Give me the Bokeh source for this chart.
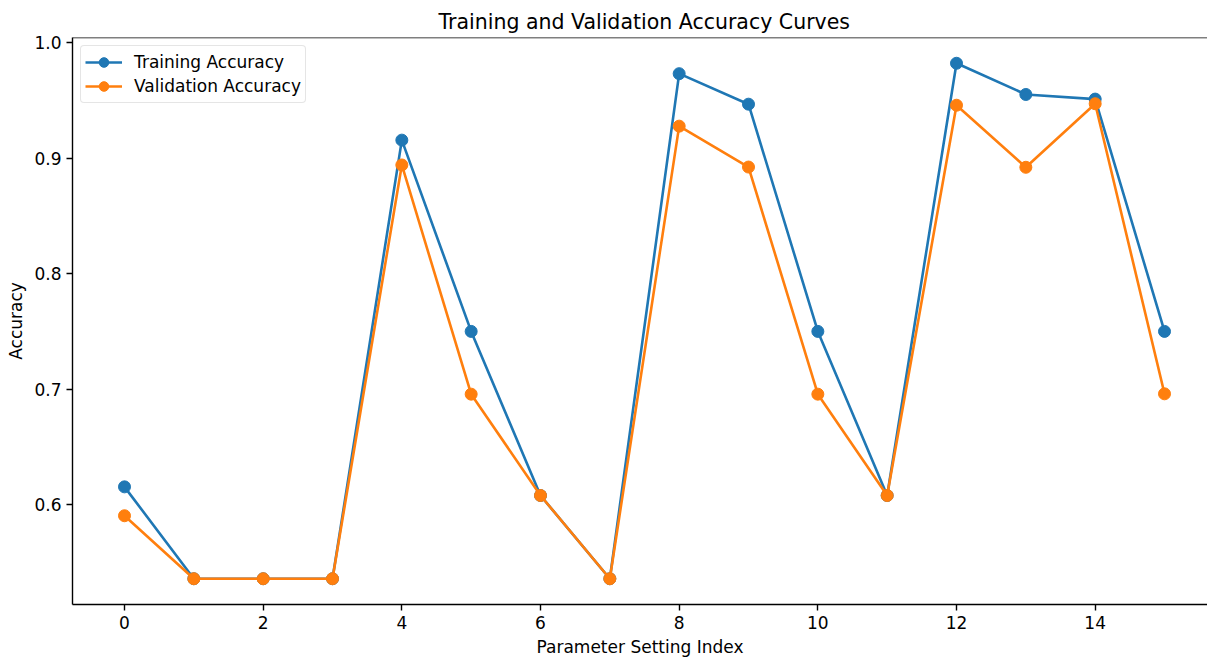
from bokeh.plotting import figure
from bokeh.models import FixedTicker, Span, Range1d, Legend, LegendItem
from bokeh.embed import file_html
from bokeh.resources import INLINE

x_idx = list(range(16))
train_acc = [0.6155, 0.536, 0.536, 0.536, 0.9155, 0.750, 0.608, 0.536,
             0.973, 0.9466, 0.750, 0.608, 0.982, 0.955, 0.951, 0.750]
val_acc = [0.5905, 0.536, 0.536, 0.536, 0.894, 0.6957, 0.608, 0.536,
           0.9276, 0.8922, 0.6957, 0.608, 0.9457, 0.892, 0.947, 0.696]
x_ticks = [0, 2, 4, 6, 8, 10, 12, 14]
y_ticks = [0.6, 0.7, 0.8, 0.9, 1.0]
y_tick_labels = ["0.6", "0.7", "0.8", "0.9", "1.0"]

FONT = "DejaVu Sans"
BLUE = "#1f77b4"
ORANGE = "#ff7f0e"

p = figure(width=1207, height=659, output_backend="svg", toolbar_location=None,
           x_range=Range1d(-0.75, 15.62), y_range=Range1d(0.5137, 1.0043),
           min_border_left=72, min_border_right=0, min_border_top=37, min_border_bottom=53,
           title="Training and Validation Accuracy Curves")

p.title.align = "left"
p.title.offset = 366
p.title.text_font = FONT
p.title.text_font_size = "20.5px"
p.title.text_font_style = "normal"
p.title.text_color = "black"
p.title.standoff = 8

p.grid.visible = False
p.outline_line_color = None
p.background_fill_color = "white"
p.border_fill_color = "white"

top_spine = Span(location=1.0043, dimension="width", line_color="black", line_width=1.4)
p.add_layout(top_spine)

for ax in (p.xaxis[0], p.yaxis[0]):
    ax.axis_line_color = "black"
    ax.axis_line_width = 1.4
    ax.major_tick_line_color = "black"
    ax.major_tick_line_width = 1.4
    ax.major_tick_in = 0
    ax.major_tick_out = 6
    ax.minor_tick_line_color = None
    ax.major_label_text_font = FONT
    ax.major_label_text_font_size = "17px"
    ax.major_label_text_color = "black"
    ax.axis_label_text_font = FONT
    ax.axis_label_text_font_size = "17px"
    ax.axis_label_text_font_style = "normal"
    ax.axis_label_text_color = "black"
    ax.major_label_standoff = 5
    ax.axis_label_standoff = 5

p.xaxis[0].ticker = FixedTicker(ticks=x_ticks)
p.yaxis[0].ticker = FixedTicker(ticks=y_ticks)
p.yaxis[0].major_label_overrides = {t: l for t, l in zip(y_ticks, y_tick_labels)}
p.xaxis[0].axis_label = "Parameter Setting Index"
p.yaxis[0].axis_label = "Accuracy"

l1 = p.line(x_idx, train_acc, line_color=BLUE, line_width=2.6)
c1 = p.scatter(x_idx, train_acc, size=12, fill_color=BLUE, line_color=BLUE)
l2 = p.line(x_idx, val_acc, line_color=ORANGE, line_width=2.6)
c2 = p.scatter(x_idx, val_acc, size=12, fill_color=ORANGE, line_color=ORANGE)

legend = Legend(items=[LegendItem(label="Training Accuracy", renderers=[l1, c1]),
                       LegendItem(label="Validation Accuracy", renderers=[l2, c2])],
                location="top_left")
legend.margin = 8
legend.padding = 4
legend.spacing = 0
legend.glyph_width = 37
legend.glyph_height = 24
legend.label_height = 20
legend.label_standoff = 12
legend.label_text_font = FONT
legend.label_text_font_size = "17px"
legend.label_text_color = "black"
legend.border_line_color = "#cccccc"
legend.border_line_width = 1.4
legend.background_fill_alpha = 0.8
if "border_radius" in Legend.properties():
    legend.border_radius = 4
p.add_layout(legend)

open("out.html", "w").write(file_html(p, INLINE))
